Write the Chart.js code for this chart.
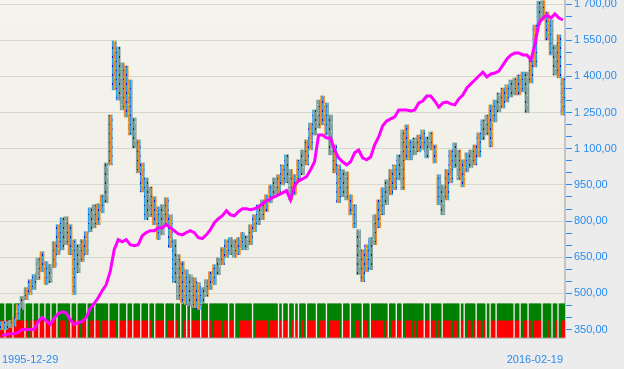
<!DOCTYPE html>
<html>
<head>
<meta charset="utf-8">
<script src="https://cdn.jsdelivr.net/npm/chart.js@4.4.1/dist/chart.umd.min.js"></script>
<style>
html, body { margin: 0; padding: 0; background: #ececec; }
canvas { display: block; }
</style>
</head>
<body>
<canvas id="chart" width="624" height="369"></canvas>
<script>
// first and last date shown under the chart
var xTickLabels = ['1995-12-29', '2016-02-19'];

// weekly price range, grouped in bins (high / low)
var priceHigh = [383,383,387,400,454,487,524,557,578,648,
  673,632,619,714,785,814,818,785,723,702,
  723,756,855,868,872,909,1041,1240,1547,1522,
  1456,1443,1385,1228,1137,1041,979,942,901,859,
  868,897,826,723,661,632,598,578,565,545,
  524,557,590,619,648,690,723,731,723,731,
  752,739,785,826,868,888,909,950,979,992,
  1033,1075,1013,992,1054,1095,1137,1207,1261,1302,
  1319,1290,1240,1116,1033,1013,1004,909,868,764,
  681,702,731,826,888,938,971,1013,1033,1075,
  1178,1199,1137,1145,1157,1178,1149,1170,1116,992,
  950,1013,1095,1124,1095,1054,1083,1095,1116,1166,
  1220,1240,1282,1302,1331,1352,1365,1385,1394,1406,
  1418,1418,1468,1613,1712,1714,1667,1634,1530,1572,
  1394];
var priceLow = [350,350,358,362,392,433,474,495,516,557,
  590,536,545,607,661,681,702,661,495,586,
  632,661,756,772,785,834,876,1033,1344,1302,
  1261,1232,1157,1104,1000,921,806,818,785,723,
  743,785,690,545,474,462,454,449,441,433,
  462,487,516,536,578,619,648,661,648,661,
  681,681,702,756,785,806,839,876,897,909,
  950,959,888,909,971,992,1033,1095,1157,1186,
  1199,1157,1075,1000,876,901,888,826,772,578,
  549,590,598,702,772,826,868,909,930,971,
  930,1054,1054,1075,1087,1095,1062,1095,1041,868,
  826,888,959,1021,971,942,1004,1021,1033,1066,
  1137,1157,1108,1211,1253,1269,1294,1315,1323,1323,
  1336,1249,1373,1439,1613,1634,1551,1489,1406,1394,
  1240];

// magenta curve, one value per bin
var equityLine = [325,329,333,333,337,350,350,350,350,383,
  400,387,371,396,416,424,420,392,371,379,
  383,400,437,458,482,511,536,590,681,723,
  714,723,702,698,702,739,752,760,760,772,
  772,785,772,760,747,743,752,760,752,731,
  727,743,764,793,810,822,843,826,822,839,
  851,851,847,851,859,872,884,892,901,909,
  917,926,888,946,967,975,984,1013,1046,1157,
  1157,1145,1145,1095,1062,1046,1033,1046,1083,1095,
  1062,1054,1066,1116,1149,1195,1215,1224,1232,1261,
  1261,1261,1257,1261,1290,1298,1319,1319,1298,1273,
  1290,1294,1286,1282,1307,1323,1352,1369,1385,1402,
  1418,1398,1410,1414,1422,1447,1472,1489,1497,1497,
  1489,1489,1468,1534,1621,1642,1654,1642,1659,1642,
  1634];

// signal strip at the bottom: bins with no signal, bins fully green
var signalCount = 283;
var signalGaps = [2,6,12,16,19,22,25,28,35,38,43,47,54,59,63,66,70,74,77,82,87,90,93,
  95,100,104,114,117,126,139,141,144,147,149,153,158,163,171,175,181,185,
  194,198,201,212,215,221,230,232,238,243,245,248,257,260,264,271,276,279];
var signalFullGreen = [14,29,33,40,44,50,58,76,83,89,91,
  106,111,118,119,127,134,145,150,152,159,164,170,176,177,180,184,
  192,195,202,206,208,218,220,226,229,233,236,241,244,261,266,272,273,275,277,280];
var bandTop = 457, bandMid = 389, bandBottom = 318;

var blue = '#2a8cf0';

var priceRanges = priceHigh.map(function (h, i) { return [priceLow[i], h]; });
var binLabels = priceHigh.map(function (h, i) { return String(i); });

var signalLabels = [], greenBand = [], redBand = [];
for (var i = 0; i < signalCount; i++) {
  signalLabels.push(String(i));
  if (signalGaps.indexOf(i) >= 0) { greenBand.push(null); redBand.push(null); }
  else if (signalFullGreen.indexOf(i) >= 0) { greenBand.push([bandBottom, bandTop]); redBand.push(null); }
  else { greenBand.push([bandMid, bandTop]); redBand.push([bandBottom, bandMid]); }
}

function fmt(v) {
  var s = v.toFixed(0);
  if (v >= 1000) s = s.slice(0, s.length - 3) + ' ' + s.slice(-3);
  return s + ',00';
}

// thin vertical strokes in the price colours
function barPattern() {
  var cv = document.createElement('canvas');
  cv.width = 7; cv.height = 9;
  var c = cv.getContext('2d');
  var cols = ['#2aa0e8', '#82a09c', '#f28c30', '#82a09c', '#2aa0e8', '#f28c30', '#82a09c'];
  cols.forEach(function (col, k) { c.fillStyle = col; c.fillRect(k, 0, 1, 9); });
  c.fillStyle = '#1414d8'; c.fillRect(0, 2, 1, 2); c.fillRect(4, 7, 1, 1);
  c.fillStyle = '#f4e21a'; c.fillRect(2, 5, 1, 1);
  return document.getElementById('chart').getContext('2d').createPattern(cv, 'repeat');
}

var bgPlugin = {
  id: 'bg',
  beforeDraw: function (chart) {
    var c = chart.ctx, a = chart.chartArea;
    c.save();
    c.fillStyle = '#ececec';
    c.fillRect(0, 0, chart.width, chart.height);
    var g = c.createLinearGradient(0, a.top, 0, a.bottom);
    g.addColorStop(0, '#f5f4ec');
    g.addColorStop(1, '#efeee6');
    c.fillStyle = g;
    c.fillRect(a.left, a.top, a.right - a.left, a.bottom - a.top);
    c.restore();
  }
};

var chart = new Chart(document.getElementById('chart'), {
  type: 'bar',
  data: {
    labels: binLabels,
    datasets: [{
      type: 'line',
      label: 'Equity',
      data: equityLine,
      borderColor: '#ff00ff',
      borderWidth: 3,
      pointRadius: 0,
      tension: 0,
      order: 0,
      xAxisID: 'x'
    }, {
      label: 'Price',
      data: priceRanges,
      backgroundColor: barPattern(),
      borderWidth: 0,
      barPercentage: 1,
      categoryPercentage: 1,
      grouped: false,
      order: 1,
      xAxisID: 'x'
    }, {
      label: 'Signal up',
      data: greenBand,
      backgroundColor: '#008000',
      borderWidth: 0,
      barPercentage: 1,
      categoryPercentage: 1,
      grouped: false,
      order: 2,
      xAxisID: 'x2'
    }, {
      label: 'Signal down',
      data: redBand,
      backgroundColor: '#ff0000',
      borderWidth: 0,
      barPercentage: 1,
      categoryPercentage: 1,
      grouped: false,
      order: 3,
      xAxisID: 'x2'
    }]
  },
  options: {
    responsive: false,
    animation: false,
    layout: { padding: 0 },
    plugins: { legend: { display: false }, tooltip: { enabled: false } },
    scales: {
      x: {
        offset: true,
        grid: { display: false, drawTicks: false },
        border: { display: true, color: '#c4c4c4', width: 2 },
        afterFit: function (s) { s.height = 31; s.paddingLeft = 0; s.paddingRight = 0; },
        ticks: {
          autoSkip: false,
          maxRotation: 0,
          align: 'inner',
          padding: 15,
          color: blue,
          font: { family: 'Liberation Sans, Arial, sans-serif', size: 11 },
          callback: function (v, i, ticks) {
            if (i === 0) return xTickLabels[0];
            if (i === ticks.length - 1) return xTickLabels[1];
            return '';
          }
        }
      },
      x2: {
        type: 'category',
        labels: signalLabels,
        offset: true,
        display: false
      },
      y: {
        position: 'right',
        min: 315,
        max: 1717,
        afterBuildTicks: function (scale) {
          var t = [];
          for (var v = 350; v <= 1700; v += 50) t.push({ value: v });
          scale.ticks = t;
        },
        afterFit: function (s) { s.width = 59; s.paddingTop = 0; s.paddingBottom = 0; },
        grid: {
          color: function (c) {
            return (c.tick && (c.tick.value - 350) % 150 === 0) ? '#d9d8cf' : 'rgba(0,0,0,0)';
          },
          tickColor: blue,
          tickLength: 7,
          lineWidth: 1
        },
        border: { color: '#c4c4c4', width: 2 },
        ticks: {
          autoSkip: false,
          color: blue,
          padding: 2,
          font: { family: 'Liberation Sans, Arial, sans-serif', size: 11 },
          callback: function (v) { return (v - 350) % 150 === 0 ? fmt(v) : ''; }
        }
      }
    }
  },
  plugins: [bgPlugin]
});
</script>
</body>
</html>
